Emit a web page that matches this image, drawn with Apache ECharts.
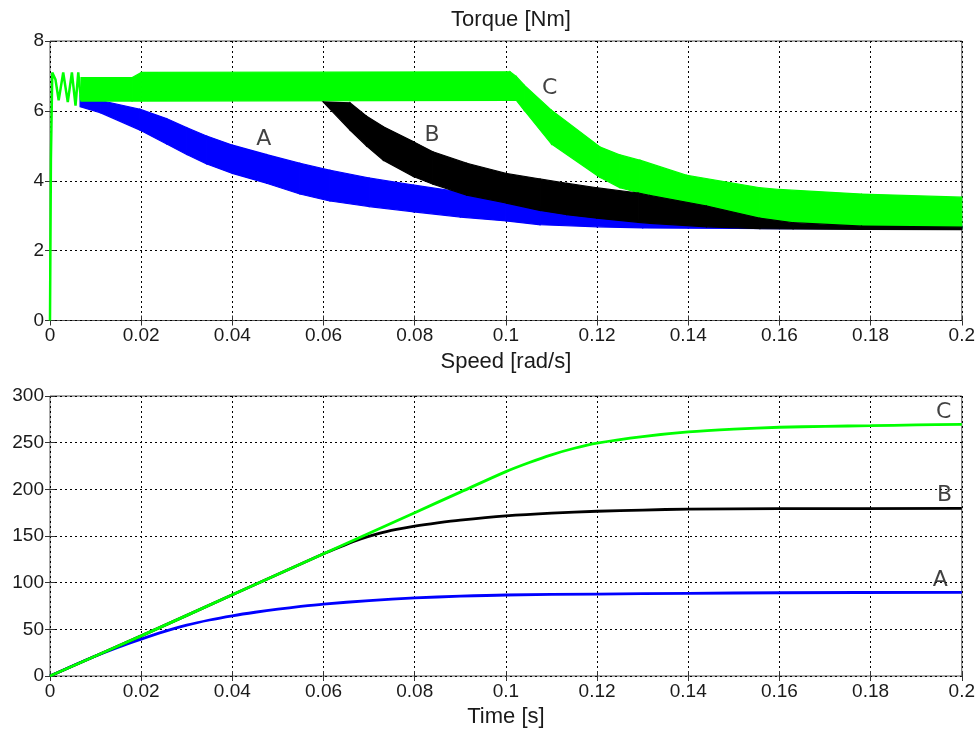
<!DOCTYPE html>
<html>
<head>
<meta charset="utf-8">
<script src="https://cdn.jsdelivr.net/npm/echarts@6/dist/echarts.min.js"></script>
<style>
html,body{margin:0;padding:0;background:#fff;}
#chart{width:978px;height:733px;}
</style>
</head>
<body>
<div id="chart"></div>
<script>
// ---------- tick labels ----------
const xTickLabels = ['0','0.02','0.04','0.06','0.08','0.1','0.12','0.14','0.16','0.18','0.2'];
const torqueTickLabels = ['0','2','4','6','8'];
const speedTickLabels = ['0','50','100','150','200','250','300'];

// ---------- Torque: noisy bands (lower / upper envelopes) ----------
const torqueA_t   = [0.0066,0.011,0.0197,0.0256,0.030,0.0344,0.040,0.0475,0.0548,0.0614,0.070,0.0797,0.090,0.100,0.1075,0.120,0.130,0.140,0.160,0.180,0.200];
const torqueA_low = [6.12,5.95,5.45,5.05,4.75,4.48,4.21,3.93,3.62,3.42,3.26,3.11,2.96,2.85,2.74,2.68,2.65,2.64,2.63,2.63,2.63];
const torqueA_up  = [6.45,6.30,6.05,5.78,5.52,5.28,5.02,4.75,4.50,4.30,4.08,3.88,3.68,3.45,3.25,3.00,2.85,2.78,2.72,2.70,2.70];

const torqueB_t   = [0.0599,0.0658,0.0694,0.0731,0.0797,0.084,0.0914,0.1001,0.1075,0.1133,0.1199,0.129,0.1316,0.144,0.1557,0.163,0.178,0.200];
const torqueB_low = [6.26,5.45,5.00,4.59,4.12,3.90,3.59,3.36,3.15,3.03,2.93,2.81,2.78,2.68,2.63,2.62,2.61,2.60];
const torqueB_up  = [6.26,6.23,5.85,5.55,5.12,4.83,4.50,4.21,4.05,3.93,3.80,3.65,3.58,3.28,2.93,2.80,2.70,2.67];

const torqueC_t   = [0.0068,0.018,0.020,0.1009,0.1023,0.104,0.110,0.1206,0.125,0.1294,0.1396,0.1557,0.160,0.178,0.200];
const torqueC_low = [6.28,6.28,6.28,6.30,6.30,6.02,5.05,4.10,3.80,3.65,3.36,2.92,2.85,2.70,2.62];
const torqueC_up  = [6.95,6.95,7.10,7.12,6.98,6.74,6.02,4.97,4.74,4.59,4.16,3.80,3.75,3.62,3.53];

// start-up transient of the torque (common to all)
const torqueStart_t = [0,0.0002,0.0005,0.0012,0.0019,0.0029,0.0039,0.0048,0.0056,0.0062,0.0068];
const torqueStart_v = [0,4.6,7.1,6.9,6.3,7.1,6.25,7.1,6.15,7.1,6.3];

// ---------- Speed curves ----------
const speedA_t = [0,0.005,0.01,0.015,0.02,0.025,0.03,0.035,0.04,0.045,0.05,0.055,0.06,0.07,0.08,0.09,0.10,0.12,0.14,0.16,0.20];
const speedA_v = [0,11,21.5,31,39.5,47.5,54.5,60,64.5,68.3,71.6,74.5,77,80.8,83.6,85.5,86.8,87.8,88.6,89.2,89.7];
const speedB_t = [0,0.02,0.04,0.06,0.064,0.068,0.072,0.076,0.08,0.085,0.09,0.10,0.11,0.12,0.13,0.14,0.16,0.20];
const speedB_v = [0,43,87,131,139,146.5,152.5,157,160.5,164,167,171.5,174.5,176.5,177.8,178.8,179.3,179.5];
const speedC_t = [0,0.02,0.04,0.06,0.08,0.09,0.10,0.105,0.11,0.115,0.12,0.13,0.14,0.15,0.16,0.17,0.18,0.19,0.20];
const speedC_v = [0,43,87,131,175,197,219,228.5,237,244,249.5,256.5,261.5,264.5,266.5,267.5,268.2,269,269.6];

// ---------- curve labels ----------
const torqueLabels = [['A',0.0469,5.18],['B',0.0838,5.31],['C',0.1096,6.64]];
const speedLabels  = [['C',0.1960,283],['B',0.1962,194],['A',0.1953,103]];

const BLUE='#0000ff', BLACK='#000000', GREEN='#00ff00';
const FONT='Liberation Sans, Arial, sans-serif';

function zip(t,v){return t.map((x,i)=>[x,v[i]]);}
function xFmt(v){const i=Math.round(v/0.02);return xTickLabels[i]!==undefined?xTickLabels[i]:'';}

// band drawn as quads between consecutive envelope samples, through the axes' scales
function bandSeries(name,t,low,up,color,z){
  const data=[];
  for(let i=0;i<t.length-1;i++){
    data.push([t[i],low[i],up[i],t[i+1],low[i+1],up[i+1]]);
  }
  return {name:name,type:'custom',xAxisIndex:0,yAxisIndex:0,z:z,silent:true,
    encode:{x:[0,3],y:[1,2,4,5]},
    data:data,
    renderItem:function(params,api){
      const p0=api.coord([api.value(0),api.value(1)]);
      const p1=api.coord([api.value(3),api.value(4)]);
      const p2=api.coord([api.value(3),api.value(5)]);
      const p3=api.coord([api.value(0),api.value(2)]);
      return {type:'polygon',shape:{points:[p0,p1,p2,p3]},
        style:{fill:color,stroke:color,lineWidth:1.2}};
    }};
}

function mkX(gridIndex,pos,name,showLabel){
  return {type:'value',gridIndex:gridIndex,position:pos,min:0,max:0.2,interval:0.02,
    name:name,nameLocation:'middle',nameGap:30,
    nameTextStyle:{fontFamily:FONT,fontSize:22,color:'#1a1a1a'},
    axisLine:{show:false},
    axisTick:{show:true,inside:true,length:5,lineStyle:{color:'#333'}},
    axisLabel:{show:showLabel,formatter:xFmt,fontFamily:FONT,fontSize:19,color:'#1a1a1a',margin:6},
    splitLine:{show:showLabel,lineStyle:{color:'#000',type:[2,3],width:1}}};
}
function mkY(gridIndex,pos,max,interval,labels,showLabel){
  return {type:'value',gridIndex:gridIndex,position:pos,min:0,max:max,interval:interval,
    axisLine:{show:false},
    axisTick:{show:true,inside:true,length:5,lineStyle:{color:'#333'}},
    axisLabel:{show:showLabel,formatter:(v)=>labels[Math.round(v/interval)],fontFamily:FONT,fontSize:19,color:'#1a1a1a',margin:6},
    splitLine:{show:showLabel,lineStyle:{color:'#000',type:[2,3],width:1}}};
}

const series = [];
series.push(bandSeries('A',torqueA_t,torqueA_low,torqueA_up,BLUE,2));
series.push(bandSeries('C',torqueC_t,torqueC_low,torqueC_up,GREEN,3));
series.push({name:'Cstart',type:'line',xAxisIndex:0,yAxisIndex:0,data:zip(torqueStart_t,torqueStart_v),
  showSymbol:false,symbol:'none',z:3,lineStyle:{width:2.5,color:GREEN}});
series.push(bandSeries('B',torqueB_t,torqueB_low,torqueB_up,BLACK,4));

series.push({name:'A',type:'line',xAxisIndex:2,yAxisIndex:2,data:zip(speedA_t,speedA_v),smooth:0.3,
  showSymbol:false,symbol:'none',z:2,lineStyle:{width:2.8,color:BLUE}});
series.push({name:'B',type:'line',xAxisIndex:2,yAxisIndex:2,data:zip(speedB_t,speedB_v),smooth:0.3,
  showSymbol:false,symbol:'none',z:3,lineStyle:{width:2.8,color:BLACK}});
series.push({name:'C',type:'line',xAxisIndex:2,yAxisIndex:2,data:zip(speedC_t,speedC_v),smooth:0.3,
  showSymbol:false,symbol:'none',z:4,lineStyle:{width:2.8,color:GREEN}});

function labelSeries(arr,xi,yi){
  return {type:'scatter',xAxisIndex:xi,yAxisIndex:yi,symbolSize:1,z:10,silent:true,
    itemStyle:{color:'rgba(0,0,0,0)'},
    data:arr.map(a=>({value:[a[1],a[2]],name:a[0]})),
    label:{show:true,position:'inside',formatter:(p)=>p.name,fontFamily:'DejaVu Sans, sans-serif',fontSize:22,color:'#111'}};
}
series.push(labelSeries(torqueLabels,0,0));
series.push(labelSeries(speedLabels,2,2));

const option = {
  animation:false,
  backgroundColor:'#fff',
  title:{text:'Torque [Nm]',left:506,top:4,textAlign:'center',
    textStyle:{fontFamily:FONT,fontSize:22,fontWeight:'normal',color:'#1a1a1a'}},
  grid:[
    {left:50,top:41,width:912,height:279.5,show:true,borderColor:'#555',borderWidth:1,backgroundColor:'#fff'},
    {left:50,top:396,width:912,height:280,show:true,borderColor:'#555',borderWidth:1,backgroundColor:'#fff'}
  ],
  xAxis:[
    mkX(0,'bottom','Speed [rad/s]',true),
    mkX(0,'top','',false),
    mkX(1,'bottom','Time [s]',true),
    mkX(1,'top','',false)
  ],
  yAxis:[
    mkY(0,'left',8,2,torqueTickLabels,true),
    mkY(0,'right',8,2,torqueTickLabels,false),
    mkY(1,'left',300,50,speedTickLabels,true),
    mkY(1,'right',300,50,speedTickLabels,false)
  ],
  series:series
};
const chart = echarts.init(document.getElementById('chart'),null,{renderer:'canvas'});
chart.setOption(option);
</script>
</body>
</html>
